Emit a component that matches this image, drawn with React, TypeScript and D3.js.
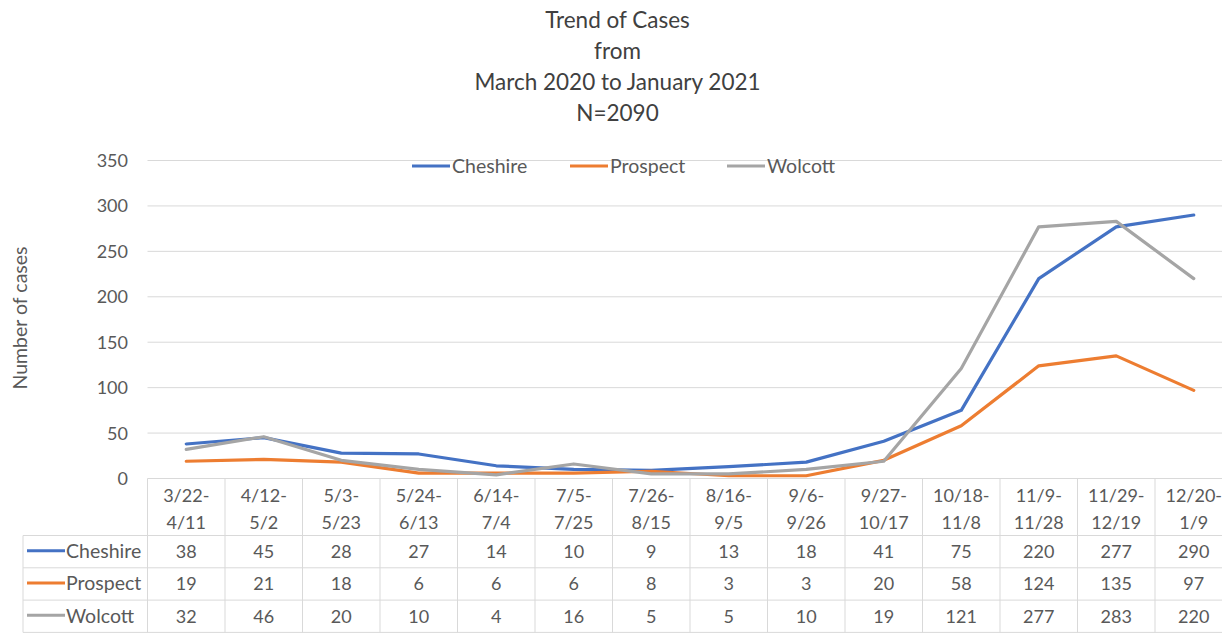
import React from "react";
import * as d3 from "d3";

const categories = [
  "3/22-4/11", "4/12-5/2", "5/3-5/23", "5/24-6/13", "6/14-7/4", "7/5-7/25", "7/26-8/15",
  "8/16-9/5", "9/6-9/26", "9/27-10/17", "10/18-11/8", "11/9-11/28", "11/29-12/19", "12/20-1/9",
];
const seriesNames = ["Cheshire", "Prospect", "Wolcott"];
const cheshire = [38, 45, 28, 27, 14, 10, 9, 13, 18, 41, 75, 220, 277, 290];
const prospect = [19, 21, 18, 6, 6, 6, 8, 3, 3, 20, 58, 124, 135, 97];
const wolcott = [32, 46, 20, 10, 4, 16, 5, 5, 10, 19, 121, 277, 283, 220];
const yTicks = [0, 50, 100, 150, 200, 250, 300, 350];
const titleLines = ["Trend of Cases", "from", "March 2020 to January 2021", "N=2090"];
const colors = ["#4472C4", "#ED7D31", "#A5A5A5"];

const W = 1222;
const H = 634;
const FONT = "Lato, 'Open Sans', sans-serif";
const TEXT = "#595959";
const GRID = "#D9D9D9";

export default function App() {
  const seriesValues = [cheshire, prospect, wolcott];
  const x = d3.scaleBand<string>().domain(categories).range([147.5, 147.5 + 77.5 * categories.length]);
  const y = d3.scaleLinear().domain([0, 350]).range([478.5, 160.5]);
  const cx = (c: string) => (x(c) as number) + x.bandwidth() / 2;
  const line = d3
    .line<number>()
    .x((_, i) => cx(categories[i]))
    .y((v) => y(v));

  const headerTop = 478.5;
  const headerBottom = 535.5;
  const rowH = 32.3;
  const tableLeft = 23;
  const plotRight = W;
  const tableBottom = headerBottom + rowH * 3;

  const legendX = [412, 570, 727];

  return (
    <svg
      width={W}
      height={H}
      style={{ position: "absolute", left: 0, top: 0, background: "#fff" }}
      fontFamily={FONT}
    >
      <rect x={0} y={0} width={W} height={H} fill="#fff" />
      {/* title */}
      {titleLines.map((t, i) => (
        <text key={t} x={617.5} y={28 + i * 31} textAnchor="middle" fontSize={22.5} fill="#404040">
          {t}
        </text>
      ))}
      {/* y axis title */}
      <text
        transform={`translate(27,318) rotate(-90)`}
        textAnchor="middle"
        fontSize={19.5}
        fill={TEXT}
      >
        Number of cases
      </text>
      {/* gridlines */}
      {yTicks.map((t) => (
        <g key={t}>
          {t > 0 && (
            <line x1={147.5} x2={plotRight} y1={y(t)} y2={y(t)} stroke={GRID} strokeWidth={1} />
          )}
          <text x={128} y={y(t) + 6.5} textAnchor="end" fontSize={18} fill={TEXT}>
            {t}
          </text>
        </g>
      ))}
      {/* legend */}
      {seriesNames.map((s, i) => (
        <g key={s}>
          <line x1={legendX[i]} x2={legendX[i] + 38} y1={166} y2={166} stroke={colors[i]} strokeWidth={3} />
          <text x={legendX[i] + 40} y={172.5} fontSize={19.5} fill={TEXT}>
            {s}
          </text>
        </g>
      ))}
      {/* table */}
      <g stroke={GRID} strokeWidth={1} fill="none">
        <line x1={147.5} x2={plotRight} y1={headerTop} y2={headerTop} />
        {[0, 1, 2, 3].map((r) => (
          <line
            key={r}
            x1={tableLeft}
            x2={plotRight}
            y1={headerBottom + r * rowH}
            y2={headerBottom + r * rowH}
          />
        ))}
        <line x1={tableLeft} x2={tableLeft} y1={headerBottom} y2={tableBottom} />
        {categories.map((c) => (
          <line key={c} x1={x(c) as number} x2={x(c) as number} y1={headerTop} y2={tableBottom} />
        ))}
      </g>
      {categories.map((c) => {
        const idx = c.indexOf("-");
        const a = c.slice(0, idx + 1);
        const b = c.slice(idx + 1);
        return (
          <g key={c}>
            <text x={cx(c)} y={502} textAnchor="middle" fontSize={18} fill={TEXT}>
              {a}
            </text>
            <text x={cx(c)} y={529} textAnchor="middle" fontSize={18} fill={TEXT}>
              {b}
            </text>
          </g>
        );
      })}
      {seriesNames.map((s, i) => {
        const rowMid = headerBottom + rowH * i + rowH / 2;
        return (
          <g key={s}>
            <line x1={27} x2={65} y1={rowMid - 1} y2={rowMid - 1} stroke={colors[i]} strokeWidth={3} />
            <text x={66} y={rowMid + 6.5} fontSize={19.5} fill={TEXT}>
              {s}
            </text>
            {seriesValues[i].map((v, j) => (
              <text
                key={j}
                x={cx(categories[j])}
                y={rowMid + 6.5}
                textAnchor="middle"
                fontSize={18}
                fill={TEXT}
              >
                {v}
              </text>
            ))}
          </g>
        );
      })}
      {/* lines */}
      {seriesValues.map((vals, i) => (
        <path
          key={i}
          d={line(vals) || ""}
          fill="none"
          stroke={colors[i]}
          strokeWidth={3.2}
          strokeLinejoin="round"
          strokeLinecap="round"
        />
      ))}
    </svg>
  );
}
